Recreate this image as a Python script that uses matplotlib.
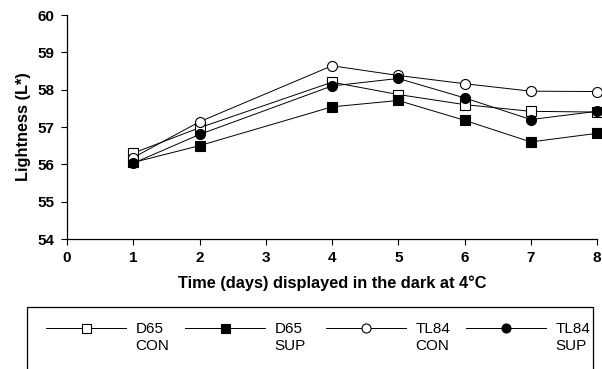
import numpy as np
import matplotlib.pyplot as plt
from matplotlib.patches import Rectangle
from matplotlib.lines import Line2D

plt.rcParams['font.family'] = ['Liberation Sans', 'DejaVu Sans']

# data
days = [1, 2, 4, 5, 6, 7, 8]
d65_con = [56.30, 56.98, 58.20, 57.87, 57.60, 57.42, 57.40]
d65_sup = [56.05, 56.50, 57.54, 57.71, 57.18, 56.60, 56.83]
tl84_con = [56.18, 57.14, 58.64, 58.38, 58.16, 57.96, 57.95]
tl84_sup = [56.03, 56.80, 58.10, 58.30, 57.78, 57.20, 57.42]

series = [
    ('D65\nCON', d65_con, 's', 'white'),
    ('D65\nSUP', d65_sup, 's', 'black'),
    ('TL84\nCON', tl84_con, 'o', 'white'),
    ('TL84\nSUP', tl84_sup, 'o', 'black'),
]

fig = plt.figure(figsize=(6.02, 3.69), dpi=100)
W, H = 602, 369
ax = fig.add_axes([67 / W, 1 - 239 / H, 530 / W, 224 / H])

for label, vals, mk, fc in series:
    ax.plot(days, vals, color='black', lw=0.7, marker=mk, markersize=7.2,
            markerfacecolor=fc, markeredgecolor='black', markeredgewidth=0.8,
            label=label, clip_on=False)

ax.set_xlim(0, 8)
ax.set_ylim(54, 60)
ax.set_xticks(range(0, 9))
ax.set_yticks(range(54, 61))
ax.spines['top'].set_visible(False)
ax.spines['right'].set_visible(False)
for s in ['left', 'bottom']:
    ax.spines[s].set_linewidth(0.9)
ax.tick_params(direction='out', length=4, width=0.8, labelsize=11, pad=5)
for t in ax.get_xticklabels() + ax.get_yticklabels():
    t.set_fontweight('bold')

ax.set_xlabel('Time (days) displayed in the dark at 4°C', fontsize=11.8,
              fontweight='bold', labelpad=7)
ax.set_ylabel('Lightness (L*)', fontsize=11.8, fontweight='bold', labelpad=5)

# legend box running off the bottom of the page
fig.patches.append(Rectangle((27 / W, -0.1), 566 / W, 0.1 + (H - 307) / H,
                             transform=fig.transFigure, fill=False,
                             edgecolor='black', lw=0.9))

# one legend entry per series, each placed at its own spot in the box
fs_px = 11 * 100 / 72
entry_x = [38, 177, 318, 458]
for line, x0 in zip(ax.get_lines(), entry_x):
    leg = fig.legend([line], [line.get_label()], loc='center left',
                     bbox_to_anchor=(x0 / W, 1 - 337.5 / H), frameon=False,
                     fontsize=11, borderpad=0, handlelength=80 / fs_px,
                     handletextpad=10 / fs_px, markerscale=0.9)
    for t in leg.get_texts():
        t.set_linespacing(1.24)
    # handle sits level with the first text line
    for ln in leg.findobj(Line2D):
        ln.set_ydata(np.asarray(ln.get_ydata()) + 6.8)

fig.savefig('out.png', dpi=100)
